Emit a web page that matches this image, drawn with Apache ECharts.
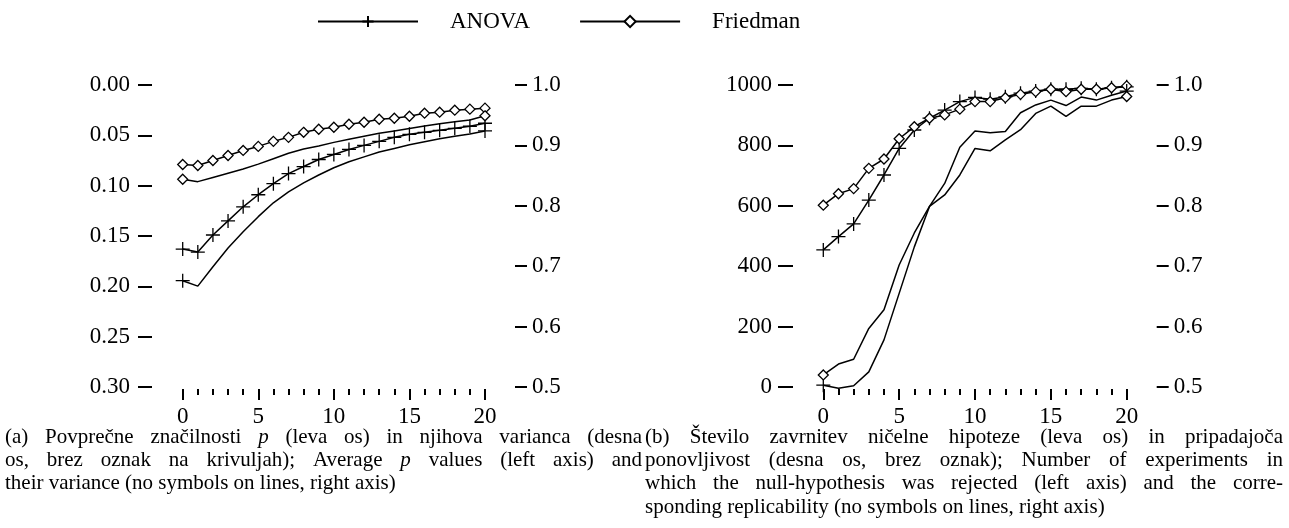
<!DOCTYPE html>
<html><head><meta charset="utf-8">
<script src="https://cdn.jsdelivr.net/npm/echarts@6/dist/echarts.min.js"></script>
<style>html,body{margin:0;padding:0;background:#fff}#c{width:1289px;height:528px}</style>
</head><body><div id="c"></div>
<script>
// ---------- data ----------
const steps = [0,1,2,3,4,5,6,7,8,9,10,11,12,13,14,15,16,17,18,19,20];
// (a) average p values (left axis, inverted)
const anovaP = [0.163,0.166,0.149,0.135,0.121,0.109,0.098,0.088,0.081,0.074,0.069,0.064,0.060,0.056,0.052,0.049,0.047,0.045,0.043,0.041,0.038];
const friedmanP = [0.079,0.080,0.075,0.070,0.065,0.061,0.056,0.052,0.047,0.044,0.042,0.039,0.037,0.034,0.033,0.031,0.028,0.027,0.025,0.024,0.023];
// (a) variance (right axis)
const anovaVar = [0.676,0.667,0.699,0.730,0.757,0.782,0.805,0.823,0.838,0.851,0.863,0.873,0.881,0.889,0.895,0.901,0.906,0.911,0.915,0.919,0.924];
const friedmanVar = [0.844,0.840,0.847,0.854,0.861,0.869,0.878,0.887,0.894,0.899,0.905,0.910,0.915,0.920,0.924,0.928,0.932,0.936,0.939,0.942,0.949];
// (b) number of rejections (left axis)
const anovaCount = [454,498,540,619,702,790,851,890,917,945,959,953,961,973,980,986,986,989,986,991,994];
const friedmanCount = [602,640,657,724,755,822,862,890,901,920,945,945,958,969,978,986,978,986,986,991,997];
// (b) replicability (right axis)
const anovaRep = [0.503,0.498,0.502,0.525,0.578,0.655,0.732,0.799,0.837,0.897,0.924,0.921,0.923,0.954,0.967,0.975,0.966,0.980,0.975,0.983,0.990];
const friedmanRep = [0.520,0.538,0.546,0.597,0.628,0.702,0.755,0.799,0.818,0.851,0.895,0.891,0.909,0.926,0.953,0.965,0.948,0.965,0.965,0.975,0.981];
const legendNames = ['ANOVA','Friedman'];
const captionA = [
  '(a) Povprečne značilnosti p (leva os) in njihova varianca (desna',
  'os, brez oznak na krivuljah); Average p values (left axis) and',
  'their variance (no symbols on lines, right axis)'
];
const captionB = [
  '(b) Število zavrnitev ničelne hipoteze (leva os) in pripadajoča',
  'ponovljivost (desna os, brez oznak); Number of experiments in',
  'which the null-hypothesis was rejected (left axis) and the corre-',
  'sponding replicability (no symbols on lines, right axis)'
];

// ---------- helpers ----------
const FONT = '"Liberation Serif", "Times New Roman", serif';
const PLUS = 'path://M0,7L14,7M7,0L7,14';
const axisText = {color:'#000', fontFamily:FONT, fontSize:23};

function pts(vals){ return steps.map((s,i)=>[s, vals[i]]); }
function endsOnly(vals){
  return steps.map((s,i)=> (i===0 || i===steps.length-1) ? {value:[s,vals[i]]} : {value:[s,vals[i]], symbol:'none'});
}
function mk(name, xi, yi, data, sym, size, fill){
  return {type:'line', name, xAxisIndex:xi, yAxisIndex:yi, data, symbol:sym, symbolSize:size,
    showSymbol:true, clip:false, animation:false,
    lineStyle:{color:'#000', width:1.5},
    itemStyle:{color:fill, borderColor:'#000', borderWidth:1.3},
    emphasis:{disabled:true}};
}
function xAx(g){
  return {type:'value', gridIndex:g, min:0, max:20, interval:5, offset:2,
    axisLine:{show:false, onZero:false},
    axisTick:{show:true, length:11, lineStyle:{color:'#000', width:2}},
    minorTick:{show:true, splitNumber:5, length:6, lineStyle:{color:'#000', width:2}},
    splitLine:{show:false}, minorSplitLine:{show:false},
    axisLabel:Object.assign({margin:16}, axisText)};
}
function yAx(g, pos, min, max, iv, off, tl, mg, fmt, inv){
  return {type:'value', gridIndex:g, position:pos, min, max, interval:iv, offset:off, inverse:!!inv,
    axisLine:{show:false, onZero:false},
    axisTick:{show:true, length:tl, lineStyle:{color:'#000', width:2}},
    splitLine:{show:false},
    axisLabel:Object.assign({margin:mg, formatter:fmt}, axisText)};
}

// caption layout (justified lines placed word by word)
const CAP_SIZE = 21;
const mctx = document.createElement('canvas').getContext('2d');
function mw(t, st){ mctx.font = st + ' ' + CAP_SIZE + 'px ' + FONT; return mctx.measureText(t).width; }
function capLines(lines, x0, x1, y0, dy){
  const els = [];
  lines.forEach((line, li)=>{
    const justify = li < lines.length - 1;
    const words = line.split(' ');
    const styles = words.map(w => w === 'p' ? 'italic' : 'normal');
    const widths = words.map((w,i)=>mw(w, styles[i]));
    const total = widths.reduce((a,b)=>a+b,0);
    const gap = justify ? Math.max(2,(x1 - x0 - total)/(words.length-1)) : mw(' ','normal');
    let x = x0;
    words.forEach((w,i)=>{
      els.push({type:'text', silent:true, x:x, y:y0 + li*dy,
        style:{text:w, fill:'#000', fontSize:CAP_SIZE, fontFamily:FONT, fontStyle:styles[i], align:'left', verticalAlign:'middle'}});
      x += widths[i] + gap;
    });
  });
  return els;
}

const chart = echarts.init(document.getElementById('c'), null, {renderer:'canvas'});
chart.setOption({
  backgroundColor:'#fff',
  animation:false,
  legend:{left:312, top:5, itemWidth:100, itemHeight:14, itemGap:49, selectedMode:false, data:legendNames,
    textStyle:{fontSize:23, fontFamily:FONT, color:'#000', padding:[0,0,0,27]}},
  grid:[
    {left:182.7, top:85, width:302.3, height:302},
    {left:823.3, top:85, width:303.4, height:302}
  ],
  xAxis:[xAx(0), xAx(1)],
  yAxis:[
    yAx(0,'left',0,0.3,0.05,30.7,14,22,v=>v.toFixed(2),true),
    yAx(0,'right',0.5,1.0,0.1,30,12,17,v=>v.toFixed(1)),
    yAx(1,'left',0,1000,200,30.3,15,21,v=>String(v)),
    yAx(1,'right',0.5,1.0,0.1,30,12,17,v=>v.toFixed(1))
  ],
  series:[
    mk('ANOVA',0,0,pts(anovaP),PLUS,14,'#000'),
    mk('Friedman',0,0,pts(friedmanP),'diamond',[10,10],'#fff'),
    mk('ANOVA varianca',0,1,endsOnly(anovaVar),PLUS,14,'#000'),
    mk('Friedman varianca',0,1,endsOnly(friedmanVar),'diamond',[10,10],'#fff'),
    mk('ANOVA',1,2,pts(anovaCount),PLUS,14,'#000'),
    mk('Friedman',1,2,pts(friedmanCount),'diamond',[10,10],'#fff'),
    mk('ANOVA ponovljivost',1,3,endsOnly(anovaRep),PLUS,14,'#000'),
    mk('Friedman ponovljivost',1,3,endsOnly(friedmanRep),'diamond',[10,10],'#fff')
  ],
  graphic:{elements: capLines(captionA, 5, 642, 437, 23.4).concat(capLines(captionB, 645, 1283, 437, 23.4))}
});
</script>
</body></html>
